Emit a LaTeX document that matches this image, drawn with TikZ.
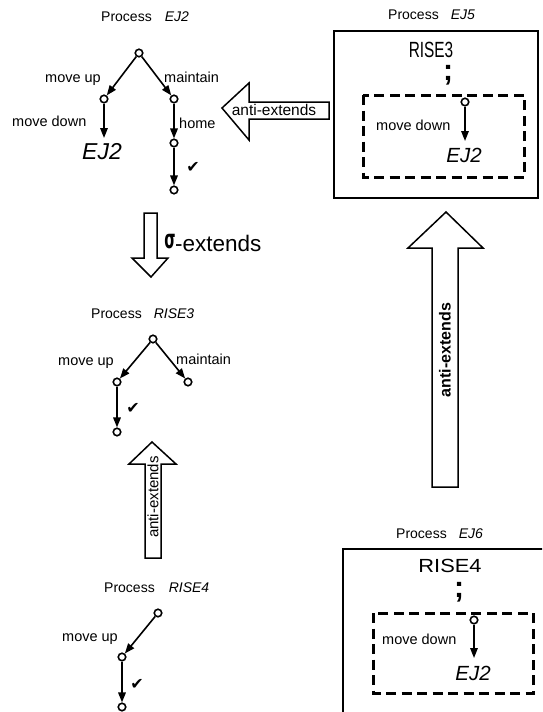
\documentclass[tikz,border=0pt]{standalone}
\usepackage{fontspec}
\setmainfont{Liberation Sans}
\newfontfamily\djv{DejaVu Sans}
\usetikzlibrary{arrows.meta}
\newcommand\myfs[1]{\fontsize{#1}{#1}\selectfont}
\begin{document}
\begin{tikzpicture}[x=1pt,y=-1pt,
 st/.style={circle,draw,line width=1.6pt,inner sep=0pt,minimum size=7.5pt,fill=white},
 ed/.style={-{Triangle[length=10pt,width=7.5pt]},line width=1.6pt},
 lbl/.style={inner sep=0pt,anchor=base west,font=\myfs{14.5}},
 bigt/.style={inner sep=0pt,font=\myfs{23}\itshape},
 midt/.style={inner sep=0pt,font=\myfs{20.5}\itshape},
 ttl/.style={inner sep=0pt,anchor=west,font=\myfs{14}},
 chk/.style={inner sep=0pt,font=\djv\myfs{16}},
 blk/.style={draw,line width=1.5pt,fill=white,line join=miter},
 sbox/.style={draw,line width=1.7pt},
 dbox/.style={draw,line width=3pt,dash pattern=on 10pt off 5.5pt},
 semi/.style={inner sep=0pt,text height=0.5em,text depth=0.17em,font=\myfs{30}\bfseries},
]
\clip (0,0) rectangle (542,712);
\fill[white] (0,0) rectangle (542,712);

% ---------- Process EJ2 ----------
\node[ttl] (t1) at (101,17) {Process\hspace{13pt}\textit{EJ2}};
\node[st] (a0) at (139,53) {};
\node[st] (a1) at (104,99) {};
\node[st] (a2) at (174,99) {};
\node[st] (a3) at (174,143) {};
\node[st] (a4) at (174,190) {};
\node[bigt] (aE) at (102,152) {EJ2};
\coordinate (a1e) at (104,138);
\draw[ed] (a0) -- (a1);
\draw[ed] (a0) -- (a2);
\draw[ed] (a1) -- (a1e);
\draw[ed] (a2) -- (a3);
\draw[ed] (a3) -- (a4);
\node[lbl] (l1) at (45,82) {move up};
\node[lbl] (l2) at (164,82) {maintain};
\node[lbl] (l3) at (12,126) {move down};
\node[lbl] (l4) at (179,128) {home};
\node[chk] (k1) at (193,167) {✔};

% ---------- horizontal anti-extends ----------
\draw[blk] (222,108) -- (249,83) -- (249,102) -- (329,102) -- (329,119) -- (249,119) -- (249,140) -- cycle;
\node[inner sep=0pt,font=\myfs{15.5}] (h1) at (274,110) {anti-extends};

% ---------- Process EJ5 ----------
\node[ttl] (t5) at (388,15) {Process\hspace{12pt}\textit{EJ5}};
\draw[sbox] (334,31) rectangle (538,198);
\node[inner sep=0pt,font=\myfs{22}] (r3) at (431,50) {\scalebox{0.7}[1]{RISE3}};
\node[semi] (s3) at (448,79) {;};
\draw[dbox] (363,95) rectangle (524,177);
\node[st] (c5) at (465,102) {};
\coordinate (c5e) at (465,141);
\draw[ed] (c5) -- (c5e);
\node[lbl] (l5) at (376,130) {move down};
\node[midt] (e5) at (464,155) {EJ2};

% ---------- sigma-extends ----------
\draw[blk] (151,277) -- (132,258) -- (144,258) -- (144,213) -- (157,213) -- (157,258) -- (168,258) -- cycle;
\node[inner sep=0pt,font=\djv\bfseries\myfs{18}] (sg) at (170,242) {\scalebox{0.8}[1.45]{σ}};
\node[inner sep=0pt,anchor=west,font=\myfs{22.5}] (sx) at (175,243) {-extends};

% ---------- Process RISE3 ----------
\node[ttl] (t3) at (91,314) {Process\hspace{12pt}\textit{RISE3}};
\node[st] (b0) at (153,339) {};
\node[st] (b1) at (117,382) {};
\node[st] (b2) at (188,382) {};
\node[st] (b3) at (117,432) {};
\draw[ed] (b0) -- (b1);
\draw[ed] (b0) -- (b2);
\draw[ed] (b1) -- (b3);
\node[lbl] (m1) at (58,365) {move up};
\node[lbl] (m2) at (176,364) {maintain};
\node[chk] (k2) at (133,408) {✔};

% ---------- small vertical anti-extends ----------
\draw[blk] (152,442) -- (176,464) -- (161,464) -- (161,558) -- (145,558) -- (145,464) -- (129,464) -- cycle;
\node[inner sep=0pt,rotate=90,font=\myfs{15}] (v1) at (153,497) {anti-extends};

% ---------- Process RISE4 ----------
\node[ttl] (t4) at (104,588) {Process\hspace{14pt}\textit{RISE4}};
\node[st] (g0) at (158,613) {};
\node[st] (g1) at (122,657) {};
\node[st] (g2) at (122,707) {};
\draw[ed] (g0) -- (g1);
\draw[ed] (g1) -- (g2);
\node[lbl] (n1) at (62,641) {move up};
\node[chk] (k3) at (137,684) {✔};

% ---------- big vertical anti-extends ----------
\draw[blk] (446,212) -- (483,248) -- (458,248) -- (458,487) -- (432,487) -- (432,248) -- (408,248) -- cycle;
\node[inner sep=0pt,rotate=90,font=\myfs{16}\bfseries] (v2) at (445,350) {anti-extends};

% ---------- Process EJ6 ----------
\node[ttl] (t6) at (396,534) {Process\hspace{12pt}\textit{EJ6}};
\draw[sbox] (343,549) rectangle (560,730);
\node[inner sep=0pt,font=\myfs{19}] (r4) at (450,566) {\scalebox{1.15}[1]{RISE4}};
\node[semi] (s4) at (459,596) {;};
\draw[dbox] (373,613) rectangle (533,693);
\node[st] (c6) at (474,620) {};
\coordinate (c6e) at (474,658);
\draw[ed] (c6) -- (c6e);
\node[lbl] (l6) at (382,644) {move down};
\node[midt] (e6) at (473,673) {EJ2};
\end{tikzpicture}
\end{document}
